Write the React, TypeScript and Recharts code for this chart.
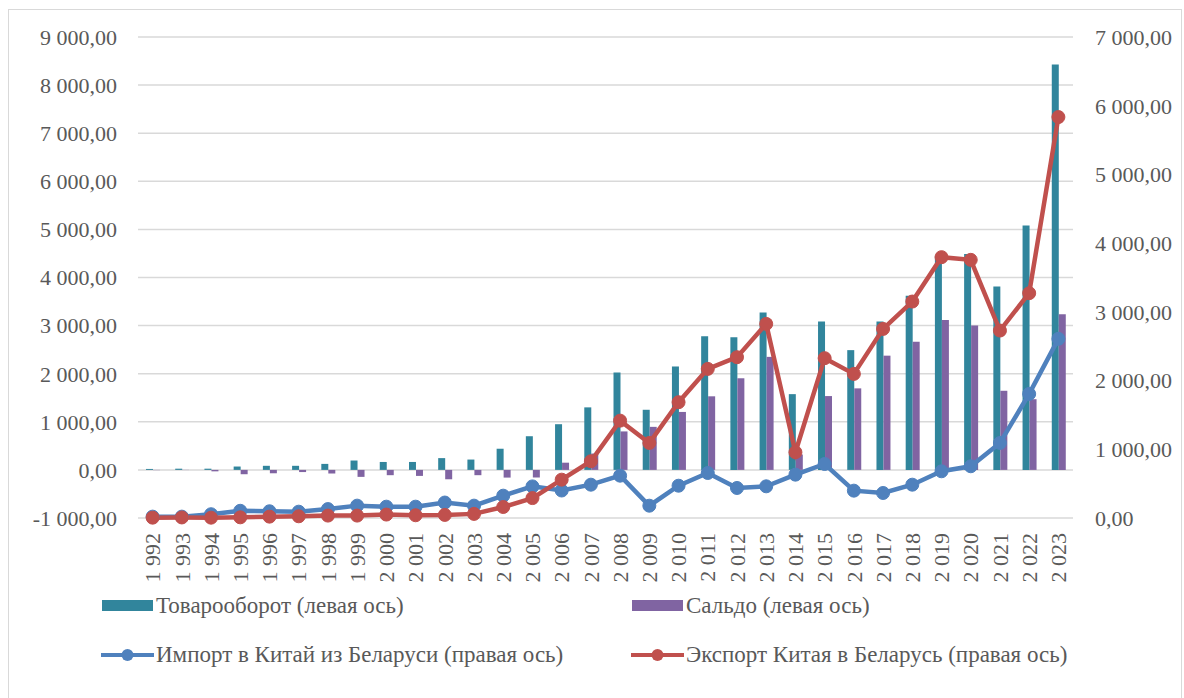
import {
  Bar,
  CartesianGrid,
  ComposedChart,
  Line,
  XAxis,
  YAxis,
} from "recharts";

const YEARS = [
  1992, 1993, 1994, 1995, 1996, 1997, 1998, 1999, 2000, 2001, 2002, 2003, 2004,
  2005, 2006, 2007, 2008, 2009, 2010, 2011, 2012, 2013, 2014, 2015, 2016, 2017,
  2018, 2019, 2020, 2021, 2022, 2023,
];

// Товарооборот (левая ось)
const TURNOVER = [
  20, 25, 25, 70, 85, 85, 125, 195, 165, 165, 245, 215, 440, 700, 950, 1300,
  2025, 1250, 2150, 2780, 2760, 3270, 1575, 3085, 2490, 3085, 3620, 4450, 4490,
  3815, 5080, 8430,
];

// Сальдо (левая ось)
const BALANCE = [
  -5, -3, -30, -90, -70, -45, -75, -145, -110, -125, -195, -110, -160, -158,
  150, 340, 800, 895, 1205, 1530, 1905, 2350, 320, 1535, 1695, 2375, 2665, 3115,
  3000, 1645, 1470, 3235,
];

// Импорт в Китай из Беларуси (правая ось)
const IMPORT = [
  20, 20, 55, 105, 98, 92, 130, 180, 165, 165, 225, 180, 325, 460, 400, 485,
  616, 179, 470, 655, 437, 461, 631, 786, 398, 364, 485, 680, 753, 1092, 1806,
  2607,
];

// Экспорт Китая в Беларусь (правая ось)
const EXPORT = [
  5, 8, 5, 10, 20, 25, 35, 35, 50, 40, 45, 60, 160, 290, 558, 826, 1417, 1092,
  1685, 2170, 2340, 2825, 957, 2326, 2097, 2752, 3150, 3796, 3757, 2728, 3272,
  5835,
];

const LEFT_TICKS = [-1000, 0, 1000, 2000, 3000, 4000, 5000, 6000, 7000, 8000, 9000];
const RIGHT_TICKS = [0, 1000, 2000, 3000, 4000, 5000, 6000, 7000];

const TEAL = "#31859c";
const PURPLE = "#8064a2";
const BLUE = "#4f81bd";
const RED = "#c0504d";
const INK = "#595959";
const FONT = "Liberation Serif, Tinos, DejaVu Serif, serif";

const data = YEARS.map((year, i) => ({
  year,
  turnover: TURNOVER[i],
  balance: BALANCE[i],
  imp: IMPORT[i],
  exp: EXPORT[i],
}));

const group = (n: number) =>
  String(n).replace(/\B(?=(\d{3})+(?!\d))/g, " ");

const fmt = (v: number) => (v < 0 ? "-" : "") + group(Math.abs(v)) + ",00";

const AXIS = { fontSize: 22, fill: INK, fontFamily: FONT };

function YearTick({ x, y, payload }: any) {
  return (
    <text
      x={0}
      y={0}
      transform={`translate(${x},${y + 7}) rotate(-90)`}
      textAnchor="end"
      dy="0.35em"
      fontSize={22}
      fill={INK}
      fontFamily={FONT}
    >
      {group(payload.value)}
    </text>
  );
}

function LegendItem({
  left,
  top,
  color,
  label,
  line,
}: {
  left: number;
  top: number;
  color: string;
  label: string;
  line?: boolean;
}) {
  return (
    <div
      style={{
        position: "absolute",
        left,
        top,
        display: "flex",
        alignItems: "center",
        fontFamily: FONT,
        fontSize: 23,
        color: INK,
        whiteSpace: "nowrap",
      }}
    >
      <svg width={53} height={16} style={{ marginRight: 2 }}>
        {line ? (
          <>
            <line x1={0} y1={8} x2={53} y2={8} stroke={color} strokeWidth={4} />
            <circle cx={26.5} cy={8} r={6} fill={color} />
          </>
        ) : (
          <rect x={1} y={2} width={51} height={11} fill={color} />
        )}
      </svg>
      {label}
    </div>
  );
}

export default function App() {
  return (
    <div
      style={{
        position: "absolute",
        left: 0,
        top: 0,
        width: 1184,
        height: 698,
        overflow: "hidden",
        background: "#fff",
        fontFamily: FONT,
      }}
    >
      <div
        style={{
          position: "absolute",
          left: 8,
          top: 9,
          width: 1172,
          height: 720,
          border: "1px solid #d9d9d9",
        }}
      />
      <div style={{ position: "absolute", left: 0, top: 0 }}>
        <ComposedChart
          width={1184}
          height={698}
          data={data}
          margin={{ top: 37, right: 0, left: 0, bottom: 0 }}
          barGap={0}
        >
          <CartesianGrid
            yAxisId="left"
            vertical={false}
            stroke="#d9d9d9"
            strokeWidth={1.5}
          />
          <XAxis
            dataKey="year"
            interval={0}
            height={180}
            tick={<YearTick />}
            tickLine={false}
            axisLine={false}
          />
          <YAxis
            yAxisId="left"
            orientation="left"
            domain={[-1000, 9000]}
            ticks={LEFT_TICKS}
            tickFormatter={fmt}
            tick={AXIS}
            width={138}
            tickSize={0}
            tickMargin={21}
            tickLine={false}
            axisLine={false}
          />
          <YAxis
            yAxisId="right"
            orientation="right"
            domain={[0, 7000]}
            ticks={RIGHT_TICKS}
            tickFormatter={fmt}
            tick={{ ...AXIS, textAnchor: "start" }}
            width={111}
            tickSize={0}
            tickMargin={22}
            tickLine={false}
            axisLine={false}
          />
          <Bar
            yAxisId="left"
            dataKey="turnover"
            name="Товарооборот (левая ось)"
            fill={TEAL}
            barSize={7}
            isAnimationActive={false}
          />
          <Bar
            yAxisId="left"
            dataKey="balance"
            name="Сальдо (левая ось)"
            fill={PURPLE}
            barSize={7}
            isAnimationActive={false}
          />
          <Line
            yAxisId="right"
            dataKey="imp"
            name="Импорт в Китай из Беларуси (правая ось)"
            stroke={BLUE}
            strokeWidth={4.5}
            dot={{ r: 6.5, fill: BLUE, stroke: BLUE, strokeWidth: 1 }}
            isAnimationActive={false}
          />
          <Line
            yAxisId="right"
            dataKey="exp"
            name="Экспорт Китая в Беларусь (правая ось)"
            stroke={RED}
            strokeWidth={4.5}
            dot={{ r: 6.5, fill: RED, stroke: RED, strokeWidth: 1 }}
            isAnimationActive={false}
          />
        </ComposedChart>
      </div>
      <LegendItem left={101} top={593} color={TEAL} label="Товарооборот (левая ось)" />
      <LegendItem left={631} top={593} color={PURPLE} label="Сальдо (левая ось)" />
      <LegendItem
        left={101}
        top={642}
        color={BLUE}
        label="Импорт в Китай из Беларуси (правая ось)"
        line
      />
      <LegendItem
        left={631}
        top={642}
        color={RED}
        label="Экспорт Китая в Беларусь (правая ось)"
        line
      />
    </div>
  );
}
